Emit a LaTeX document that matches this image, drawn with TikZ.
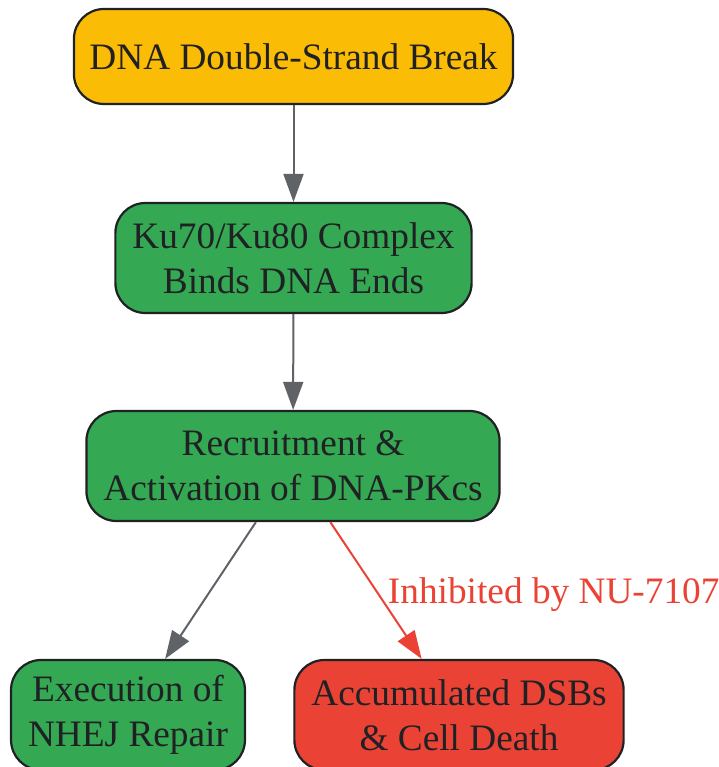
\documentclass[tikz,border=0pt]{standalone}
\usepackage{fontspec}
\setmainfont{Liberation Serif}
\usetikzlibrary{arrows.meta}
\definecolor{breakyellow}{HTML}{FBBC05}
\definecolor{repairgreen}{HTML}{34A853}
\definecolor{deathred}{HTML}{EA4335}
\definecolor{edgegray}{HTML}{5F6368}
\definecolor{inkdark}{HTML}{202124}

\begin{document}
\begin{tikzpicture}[x=1pt, y=-1pt,
    stepnode/.style={draw=inkdark, line width=2.2pt, rounded corners=30pt, align=center,
        text=inkdark, inner xsep=17pt, inner ysep=0pt, font=\fontsize{37.3}{44.5}\selectfont},
    flow/.style={draw=edgegray, line width=2pt, -{Triangle[length=28pt, width=20pt]}}]
    \useasboundingbox (0,0) rectangle (718,767);

    % Break and recognition
    \node[stepnode, fill=breakyellow, minimum height=95pt, inner xsep=15.5pt] (dsb) at (293.5,56.5) {DNA Double-Strand Break};
    \node[stepnode, fill=repairgreen, minimum height=110pt] (ku) at (293.5,258) {Ku70/Ku80 Complex\\Binds DNA Ends};
    \node[stepnode, fill=repairgreen, minimum height=110pt] (pkcs) at (293,466) {Recruitment \&\\Activation of DNA-PKcs};

    % Outcomes
    \node[stepnode, fill=repairgreen, minimum height=110pt] (nhej) at (128,715) {Execution of\\NHEJ Repair};
    \node[stepnode, fill=deathred, minimum height=110pt] (death) at (459,715) {Accumulated DSBs\\\& Cell Death};

    \draw[flow] (dsb) -- (ku);
    \draw[flow] (ku) -- (pkcs);
    \draw[flow] (pkcs) -- (nhej);
    \draw[flow, draw=deathred] (pkcs) -- (death)
        node[midway, right=11pt, yshift=-4pt, inner sep=0pt, text=deathred, font=\fontsize{37.3}{44}\selectfont] (inhib) {Inhibited by NU-7107};
\end{tikzpicture}
\end{document}
